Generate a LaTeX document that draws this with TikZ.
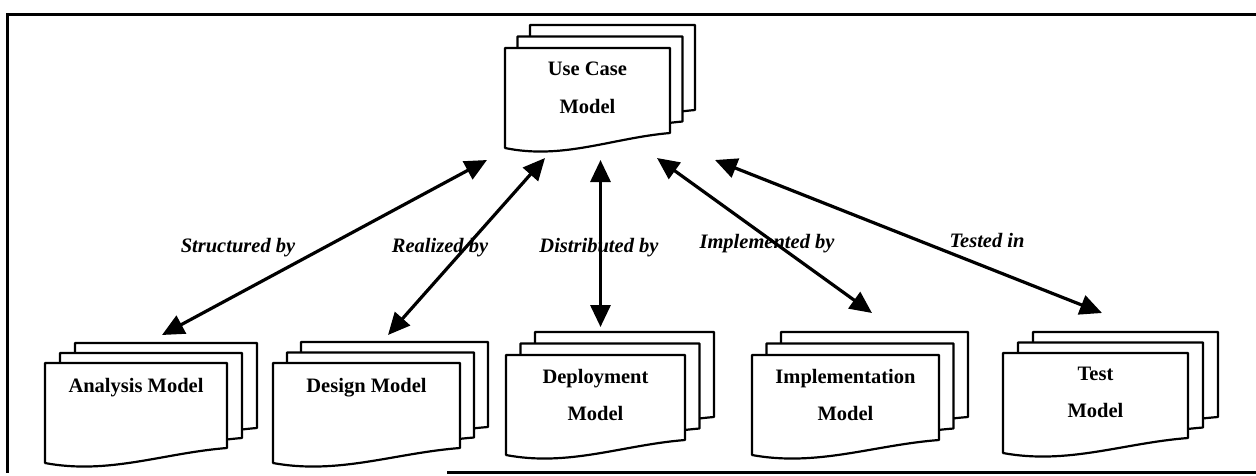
\documentclass[tikz,border=0pt]{standalone}
\usepackage{fontspec}
\setmainfont{Liberation Serif}
\usetikzlibrary{arrows.meta}

\tikzset{
  sheet/.style={draw=black, fill=white, line width=2.2pt, line join=round},
  link/.style={line width=3.2pt,
    {Triangle[length=22pt,width=20pt]}-{Triangle[length=22pt,width=20pt]}},
  border/.style={line width=3pt},
  title/.style={font=\fontsize{20.5}{24}\selectfont\bfseries, inner sep=0pt, anchor=base},
  rel/.style={font=\fontsize{20.5}{24}\selectfont\bfseries\itshape, inner sep=0pt, anchor=base},
}

% one document sheet: left, top, right (pixel units, y downward)
\newcommand\docsheet[3]{%
  \path[sheet] ({#1},{#2}) -- ({#3},{#2}) -- ({#3},{(#2)+85})
    .. controls ({(#3)-0.35*((#3)-(#1))},{(#2)+90})
            and ({(#1)+0.35*((#3)-(#1))},{(#2)+112}) .. ({#1},{(#2)+100}) -- cycle;}

% a stack of three sheets: left, top, right of the front one, offset dx, dy
\newcommand\docstack[5]{%
  \docsheet{(#1)+2*(#4)}{(#2)+2*(#5)}{(#3)+2*(#4)}%
  \docsheet{(#1)+(#4)}{(#2)+(#5)}{(#3)+(#4)}%
  \docsheet{#1}{#2}{#3}}

\begin{document}
\begin{tikzpicture}[x=1pt, y=-1pt]
  \useasboundingbox (0,0) rectangle (1256,475);

  % frame
  \draw[border] (6,14) -- (1256,14);
  \draw[border] (7,14) -- (7,473);
  \draw[border] (447,472) -- (1256,472);

  % document stacks
  \docstack{505}{48}{670}{12.5}{-11.5}
  \docstack{45}{363}{227}{15}{-10}
  \docstack{273}{363}{460}{14}{-10.5}
  \docstack{506}{355}{685}{14.5}{-11.5}
  \docstack{752}{355}{939}{14.5}{-11.5}
  \docstack{1003}{353}{1188}{15}{-10.5}

  % stack titles
  \node[title] (uc)  at (587.5,75)  {Use Case};
  \node[title] (uc2) at (587.5,113) {Model};
  \node[title] (an)  at (136,392)   {Analysis Model};
  \node[title] (de)  at (366.5,392) {Design Model};
  \node[title] (dp)  at (595.5,383) {Deployment};
  \node[title] (dp2) at (595.5,420) {Model};
  \node[title] (im)  at (845.5,383) {Implementation};
  \node[title] (im2) at (845.5,420) {Model};
  \node[title] (te)  at (1095.5,380) {Test};
  \node[title] (te2) at (1095.5,417) {Model};

  % connector ends
  \coordinate (uc-an) at (487,160);
  \coordinate (uc-de) at (545,158);
  \coordinate (uc-dp) at (600.5,160);
  \coordinate (uc-im) at (657,158);
  \coordinate (uc-te) at (715,160);
  \coordinate (an-uc) at (162,335);
  \coordinate (de-uc) at (388,335);
  \coordinate (dp-uc) at (600.5,327);
  \coordinate (im-uc) at (872,313);
  \coordinate (te-uc) at (1102,313);

  % connectors
  \draw[link] (an-uc) -- (uc-an);
  \draw[link] (de-uc) -- (uc-de);
  \draw[link] (dp-uc) -- (uc-dp);
  \draw[link] (im-uc) -- (uc-im);
  \draw[link] (te-uc) -- (uc-te);

  % relation labels
  \node[rel] (l1) at (238,252) {Structured by};
  \node[rel] (l2) at (440,252) {Realized by};
  \node[rel] (l3) at (599,252) {Distributed by};
  \node[rel] (l4) at (767,248) {Implemented by};
  \node[rel] (l5) at (987,247) {Tested in};
\end{tikzpicture}
\end{document}
